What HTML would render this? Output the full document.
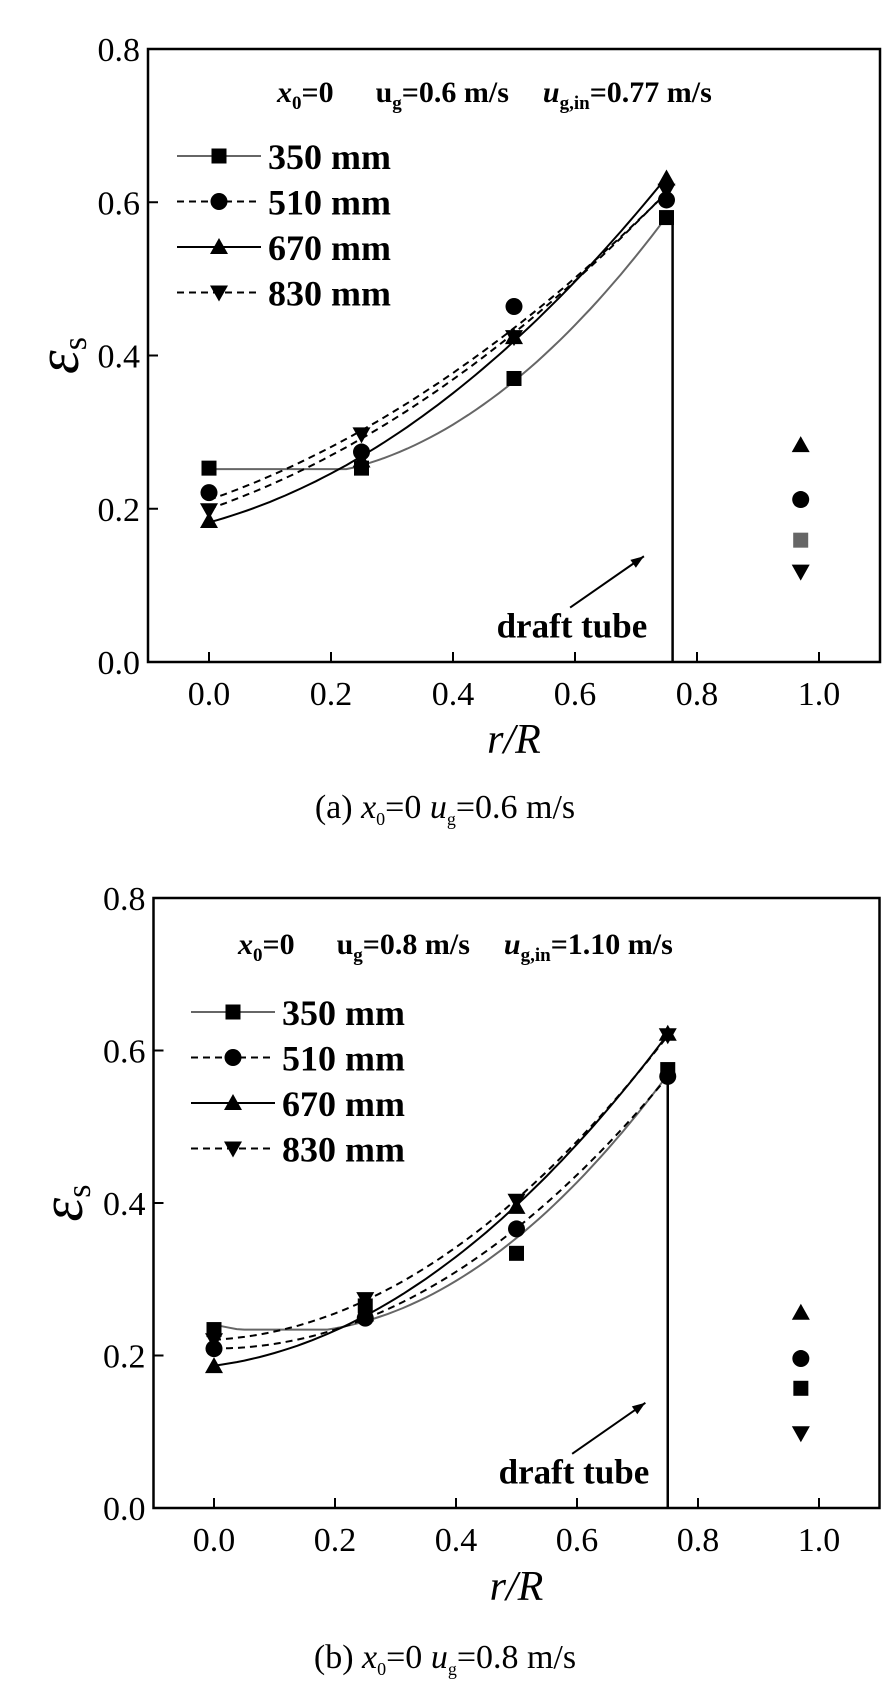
<!DOCTYPE html>
<html><head><meta charset="utf-8"><style>
html,body{margin:0;padding:0;background:#fff;}
svg{display:block;font-family:"Liberation Serif",serif;}
</style></head><body>
<svg id="fig" width="889" height="1699" viewBox="0 0 889 1699" xmlns="http://www.w3.org/2000/svg"></svg>
<script>
// ===== Panel (a) data =====
const xCatsA = [0, 0.25, 0.5, 0.75];
const s350A = [0.253, 0.253, 0.37, 0.58];
const s510A = [0.221, 0.274, 0.464, 0.603];
const s670A = [0.184, 0.263, 0.424, 0.631];
const s830A = [0.198, 0.297, 0.424, 0.615];
const extraA = [0.283, 0.212, 0.159, 0.118]; // tri-up, circle, square, tri-down at x=0.97
// ===== Panel (b) data =====
const xCatsB = [0, 0.25, 0.5, 0.75];
const s350B = [0.234, 0.265, 0.334, 0.575];
const s510B = [0.209, 0.249, 0.366, 0.566];
const s670B = [0.186, 0.254, 0.395, 0.622];
const s830B = [0.22, 0.274, 0.403, 0.62];
const extraB = [0.256, 0.196, 0.157, 0.098];
const xTicks = [0, 0.2, 0.4, 0.6, 0.8, 1.0];
const yTicks = [0, 0.2, 0.4, 0.6, 0.8];
const seriesNames = ["350 mm", "510 mm", "670 mm", "830 mm"];
const extraX = 0.97;

const NS = "http://www.w3.org/2000/svg";
const svg = document.getElementById('fig');
function mk(tag, attrs, parent) {
  const e = document.createElementNS(NS, tag);
  for (const k in attrs) e.setAttribute(k, attrs[k]);
  (parent || svg).appendChild(e);
  return e;
}
function fitQuad(xs, ys) {
  let S = [[0,0,0],[0,0,0],[0,0,0]], b = [0,0,0];
  for (let i = 0; i < xs.length; i++) {
    const p = [1, xs[i], xs[i]*xs[i]];
    for (let r = 0; r < 3; r++) { b[r] += p[r]*ys[i]; for (let c = 0; c < 3; c++) S[r][c] += p[r]*p[c]; }
  }
  for (let i = 0; i < 3; i++) {
    for (let j = i+1; j < 3; j++) {
      const f = S[j][i]/S[i][i];
      for (let k = i; k < 3; k++) S[j][k] -= f*S[i][k];
      b[j] -= f*b[i];
    }
  }
  const c = [0,0,0];
  for (let i = 2; i >= 0; i--) {
    let s = b[i]; for (let k = i+1; k < 3; k++) s -= S[i][k]*c[k];
    c[i] = s/S[i][i];
  }
  return x => c[0] + c[1]*x + c[2]*x*x;
}
function marker(g, type, cx, cy, fill) {
  const r = 8;
  let e;
  if (type === 'square') e = mk('rect', {x: cx-7.5, y: cy-7.5, width: 15, height: 15, fill: fill}, g);
  else if (type === 'circle') e = mk('circle', {cx: cx, cy: cy, r: 8.5, fill: fill}, g);
  else if (type === 'up') e = mk('polygon', {points: `${cx},${cy-r-1} ${cx-r-1},${cy+r-1} ${cx+r+1},${cy+r-1}`, fill: fill}, g);
  else e = mk('polygon', {points: `${cx},${cy+r+1} ${cx-r-1},${cy-r+1} ${cx+r+1},${cy-r+1}`, fill: fill}, g);
  return e;
}

function panel(cfg) {
  const X = v => cfg.x0 + (v - 0) * cfg.xs;
  const Y = v => cfg.yb - v * cfg.ys;
  const g = mk('g', {});
  
  
  const L = X(-0.1), R = X(1.1), T = Y(0.8), B = Y(0);
  const frame = mk('rect', {x: L, y: T, width: R-L, height: B-T, fill: 'none', stroke: '#000', 'stroke-width': 2.5}, g);
  
  
  xTicks.forEach(t => {
    mk('line', {x1: X(t), x2: X(t), y1: B, y2: B-10, stroke: '#000', 'stroke-width': 2}, g);
    const tl = mk('text', {x: X(t), y: B+43, 'font-size': 34, 'text-anchor': 'middle'}, g);
    tl.textContent = t.toFixed(1);
    
    
  });
  yTicks.forEach(t => {
    mk('line', {x1: L, x2: L+10, y1: Y(t), y2: Y(t), stroke: '#000', 'stroke-width': 2}, g);
    const tl = mk('text', {x: L-8, y: Y(t)+12, 'font-size': 34, 'text-anchor': 'end'}, g);
    tl.textContent = t.toFixed(1);
    
    
  });
  const dt = mk('line', {x1: X(cfg.tubeX), x2: X(cfg.tubeX), y1: Y(cfg.tubeTop), y2: B, stroke: '#000', 'stroke-width': 2.5}, g);
  
  
  const ax1 = X(0.592), ay1 = Y(0.071), ax2 = X(0.713), ay2 = Y(0.138);
  const ar = mk('line', {x1: ax1, y1: ay1, x2: ax2, y2: ay2, stroke: '#000', 'stroke-width': 2}, g);
  
  
  const ang = Math.atan2(ay2-ay1, ax2-ax1);
  const hp = (a, l) => `${ax2 - l*Math.cos(ang+a)},${ay2 - l*Math.sin(ang+a)}`;
  mk('polygon', {points: `${ax2},${ay2} ${hp(0.35,14)} ${hp(-0.35,14)}`, fill: '#000'}, g);
  const dtt = mk('text', {x: X(0.595), y: Y(0.045)+10, 'font-size': 35, 'font-weight': 'bold', 'text-anchor': 'middle'}, g);
  dtt.textContent = 'draft tube';
  
  
  const styles = [
    {data: cfg.s[0], m: 'square', stroke: '#666', dash: ''},
    {data: cfg.s[1], m: 'circle', stroke: '#000', dash: '7,5'},
    {data: cfg.s[2], m: 'up', stroke: '#000', dash: ''},
    {data: cfg.s[3], m: 'down', stroke: '#000', dash: '7,5'}
  ];
  styles.forEach((st, i) => {
    const f = fitQuad(cfg.xc, st.data);
    let d = '';
    const y0 = f(0);
    for (let k = 0; k <= 60; k++) {
      const xv = 0.75 * k / 60;
      const yv = Math.max(f(xv), Math.min(y0, st.data[0]));
      d += (k ? 'L' : 'M') + X(xv).toFixed(1) + ',' + Y(yv).toFixed(1);
    }
    const p = mk('path', {d: d, fill: 'none', stroke: st.stroke, 'stroke-width': 2, 'stroke-dasharray': st.dash}, g);
    
    
    st.data.forEach((v, j) => {
      const m = marker(g, st.m, X(cfg.xc[j]), Y(v), '#000');
      
      
    });
  });
  const em = ['up', 'circle', 'square', 'down'];
  cfg.extra.forEach((v, j) => {
    const m = marker(g, em[j], X(extraX), Y(v), (em[j] === 'square' && cfg.graySq) ? '#666' : '#000');
    
    
  });
  styles.forEach((st, i) => {
    const ly = cfg.legY + i * 45.5;
    const ln = mk('line', {x1: cfg.legX, x2: cfg.legX + 84, y1: ly, y2: ly, stroke: st.stroke, 'stroke-width': 2, 'stroke-dasharray': st.dash}, g);
    
    
    marker(g, st.m, cfg.legX + 42, ly, '#000');
    const t = mk('text', {x: cfg.legX + 91, y: ly + 13, 'font-size': 36, 'font-weight': 'bold'}, g);
    t.textContent = seriesNames[i];
    
    
  });
  const tt = mk('text', {x: cfg.titleX, y: cfg.titleY, 'font-size': 30, 'font-weight': 'bold'}, g);
  tt.innerHTML = `<tspan font-style="italic">x</tspan><tspan font-size="19" dy="7">0</tspan><tspan dy="-7">=0</tspan><tspan dx="42">u</tspan><tspan font-size="19" dy="7">g</tspan><tspan dy="-7">=${cfg.ug} m/s</tspan><tspan dx="34" font-style="italic">u</tspan><tspan font-size="19" dy="7">g,in</tspan><tspan dy="-7">=${cfg.ugin} m/s</tspan>`;
  
  
  const yl = mk('text', {transform: `translate(${cfg.ylX},${(T+B)/2}) rotate(-90)`, 'font-size': 60, 'text-anchor': 'middle'}, g);
  yl.innerHTML = `<tspan font-style="italic">ε</tspan><tspan font-size="34" dy="8">s</tspan>`;
  
  
  const xl = mk('text', {x: X(0.5), y: cfg.xlY, 'font-size': 42, 'font-style': 'italic', 'text-anchor': 'middle'}, g);
  xl.textContent = 'r/R';
  
  
  const cap = mk('text', {x: 445, y: cfg.capY, 'font-size': 34, 'text-anchor': 'middle'}, g);
  cap.innerHTML = `${cfg.letter} <tspan font-style="italic">x</tspan><tspan font-size="18" dy="7">0</tspan><tspan dy="-7">=0 </tspan><tspan font-style="italic">u</tspan><tspan font-size="18" dy="7">g</tspan><tspan dy="-7">=${cfg.ug} m/s</tspan>`;
  
  
}

panel({name: 'panel-a', x0: 209, xs: 610, yb: 662, ys: 766.25, xc: xCatsA,
  s: [s350A, s510A, s670A, s830A], extra: extraA, graySq: true,
  tubeX: 0.76, tubeTop: 0.58, legX: 177, legY: 156, titleX: 277, titleY: 102,
  ug: '0.6', ugin: '0.77', ylX: 78, xlY: 753, capY: 818, letter: '(a)'});
panel({name: 'panel-b', x0: 214, xs: 605, yb: 1508, ys: 762.5, xc: xCatsB,
  s: [s350B, s510B, s670B, s830B], extra: extraB, graySq: false,
  tubeX: 0.75, tubeTop: 0.575, legX: 191, legY: 1012, titleX: 238, titleY: 954,
  ug: '0.8', ugin: '1.10', ylX: 82, xlY: 1600, capY: 1668, letter: '(b)'});
</script>
</body></html>
